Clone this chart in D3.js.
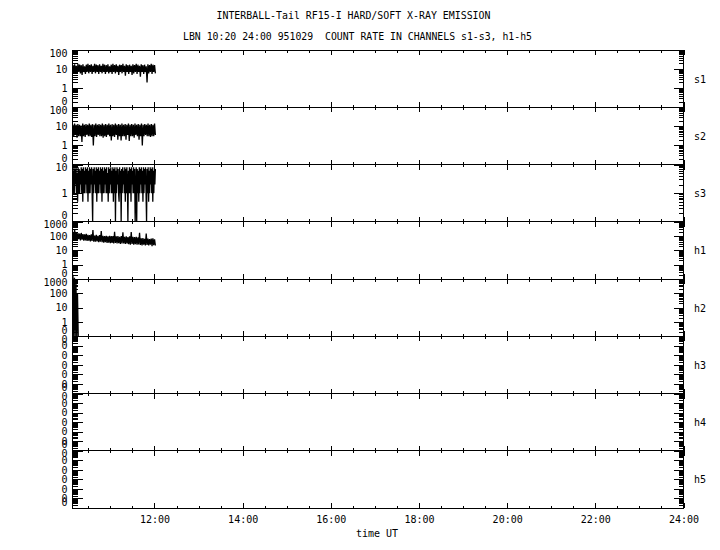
<!DOCTYPE html>
<html><head><meta charset="utf-8">
<script src="https://cdn.jsdelivr.net/npm/d3@7"></script>
<style>body{margin:0;background:#fff}</style>
</head><body><svg id="c" width="720" height="550"></svg>
<script>
// ---------- data ----------
const titleLine1 = "INTERBALL-Tail RF15-I HARD/SOFT X-RAY EMISSION";
const titleLine2 = "LBN 10:20 24:00 951029  COUNT RATE IN CHANNELS s1-s3, h1-h5";
const xAxisTitle = "time UT";
const channels = ["s1", "s2", "s3", "h1", "h2", "h3", "h4", "h5"];
const yDomains = [[0.1, 100], [0.1, 100], [0.1, 10], [0.1, 1000], [0.1, 1000], [1e-7, 0.1], [1e-7, 0.1], [1e-7, 0.1]];
const timeDomain = [10.14, 24];
const majorHours = [12, 14, 16, 18, 20, 22, 24];
const xTickLabels = ["12:00", "14:00", "16:00", "18:00", "20:00", "22:00", "24:00"];
const sampleStart = 10.15;                              // first sample (hours UT)
const sampleEnds = [12.02, 12.02, 12.02, 12.02, 10.27, 12.02, 12.02, 12.02]; // last sample per channel

const s1 = [16,6,18,7,15,5.5,19,7,17,6,16,5,18,7,14,5.5,17,7,19,6,16,7,18,5.5,15,7,19,6,17,7,16,5.5,18,7,15,6,19,7,17,5.5,16,7,18,6,14,7,17,5.5,19,7,16,6,18,7,15,5,17,7,16,6,19,7,15,4.5,18,7,16,5.5,17,7,15,5,18,6,16,7,19,5.5,17,7,15,4,18,7,16,5.5,17,7,14,2,18,6,16,7,19,5.5,17,7,16,6];
const s2 = [12,3,14,3.5,12,2.5,13,3,12,3,11,1.5,14,3,12,2.8,13,3.5,12,3,14,3,12,2.8,13,1.0,12,3,14,2.8,12,3.5,13,3,12,3,14,2.5,12,3,13,2.8,12,3.5,14,3,12,1.8,13,3,12,2.8,14,3.5,12,2,13,3,12,1.8,14,3,12,3,13,2,12,3.5,14,1.7,12,3,13,3,12,2.5,14,3.5,12,3,13,2,12,3,14,1.0,12,3,13,3.5,12,3,14,3,12,2.8,13,3,12,3,14,3.5];
const s3 = [6,1,8,1,7,2,8,1,5,0.5,8,1,7,1,6,2,8,1,7,0.5,
            8,1,6,1,8,2,7,1,8,0.5,6,1,8,1,7,2,8,1,0,7,
            1,8,2,6,1,8,0.5,7,1,8,1,6,2,8,1,7,0.5,8,1,6,
            1,8,2,7,1,8,1,5,0.5,8,1,7,2,8,1,6,1,8,0.5,7,
            1,8,0,6,1,8,2,7,1,0.5,8,1,6,0,7,1,8,2,6,1,
            8,0.5,7,1,8,2,0,6,1,8,1,7,0.5,8,2,6,1,8,1,7,
            0,1,8,0,7,1,6,0.5,8,1,7,2,8,1,6,0.5,8,1,7,2,
            8,1,0,7,1,8,0.5,6,1,8,2,7,1,8,0.5,6,1,8,2,7];
const h1 = [190,60,300,70,170,55,160,60,150,50,165,55,140,48,130,50,145,45,120,48,115,42,130,45,260,40,110,40,120,42,105,38,115,40,220,38,105,35,100,38,105,33,95,35,105,32,100,33,100,30,200,33,95,30,100,32,90,28,100,30,180,30,90,28,95,30,85,27,95,25,190,28,88,25,85,27,90,25,80,26,170,24,70,22,72,25,65,22,150,24,68,22,62,25,66,20,70,23,60,22];
const h2 = [2000,0.1,1200,0,600,0,100,0];
const h3 = [];
const h4 = [];
const h5 = [];
const series = [s1, s2, s3, h1, h2, h3, h4, h5];

// ---------- layout ----------
const svg = d3.select("#c");
const X0 = 72.5, X1 = 683.5, TOP = 50, BOTTOM = 508;
const FONT = "DejaVu Sans Mono";
const x = d3.scaleLinear().domain(timeDomain).range([X0, X1]);
const panelY = d3.scaleLinear().domain([0, channels.length]).range([TOP, BOTTOM]);
const minorHours = d3.range(10.5, 24.001, 0.5).filter(h => !majorHours.includes(h));

svg.append("text").attr("x", 216.5).attr("y", 19).attr("font-family", FONT).attr("font-size", 10)
  .attr("textLength", 274).attr("lengthAdjust", "spacingAndGlyphs").style("white-space", "pre").text(titleLine1);
svg.append("text").attr("x", 183).attr("y", 40).attr("font-family", FONT).attr("font-size", 10)
  .attr("textLength", 349).attr("lengthAdjust", "spacingAndGlyphs").style("white-space", "pre").text(titleLine2);

function styleAxis(g) {
  g.select(".domain").remove();
  g.selectAll("line").attr("stroke", "#000").attr("shape-rendering", "crispEdges");
  g.selectAll("text").attr("font-family", FONT).attr("font-size", 10).attr("fill", "#000");
  g.attr("font-family", FONT);
}

channels.forEach((ch, i) => {
  const top = panelY(i), bot = panelY(i + 1);
  const y = d3.scaleLog().domain(yDomains[i]).range([bot, top]);
  const g = svg.append("g");

  const all = y.ticks();
  const isMajor = d => Math.abs(Math.log10(d) - Math.round(Math.log10(d))) < 1e-6;
  const majors = all.filter(isMajor);
  const minors = all.filter(d => !isMajor(d));
  const fmt = d => d < 1 ? "0" : d3.format("d")(d);

  // left axis
  const la = g.append("g").attr("transform", `translate(${X0},0)`)
    .call(d3.axisLeft(y).tickValues(majors).tickSizeInner(-10).tickSizeOuter(0).tickPadding(5).tickFormat(fmt));
  styleAxis(la);
  la.selectAll("text").attr("dy", d => {
    if (Math.abs(y(d) - top) < 0.5) return "0.62em";
    if (Math.abs(y(d) - bot) < 0.5) return "-0.3em";
    return "0.32em";
  });
  styleAxis(g.append("g").attr("transform", `translate(${X0},0)`)
    .call(d3.axisLeft(y).tickValues(minors).tickSizeInner(-5).tickSizeOuter(0).tickFormat("")));
  // right axis
  styleAxis(g.append("g").attr("transform", `translate(${X1},0)`)
    .call(d3.axisRight(y).tickValues(majors).tickSizeInner(-10).tickSizeOuter(0).tickFormat("")));
  styleAxis(g.append("g").attr("transform", `translate(${X1},0)`)
    .call(d3.axisRight(y).tickValues(minors).tickSizeInner(-5).tickSizeOuter(0).tickFormat("")));

  // top/bottom time ticks
  styleAxis(g.append("g").attr("transform", `translate(0,${top})`)
    .call(d3.axisBottom(x).tickValues(majorHours).tickSizeInner(5).tickSizeOuter(0).tickFormat("")));
  styleAxis(g.append("g").attr("transform", `translate(0,${top})`)
    .call(d3.axisBottom(x).tickValues(minorHours).tickSizeInner(2.5).tickSizeOuter(0).tickFormat("")));
  styleAxis(g.append("g").attr("transform", `translate(0,${bot})`)
    .call(d3.axisTop(x).tickValues(majorHours).tickSizeInner(5).tickSizeOuter(0).tickFormat("")));
  styleAxis(g.append("g").attr("transform", `translate(0,${bot})`)
    .call(d3.axisTop(x).tickValues(minorHours).tickSizeInner(2.5).tickSizeOuter(0).tickFormat("")));

  // border
  g.append("rect").attr("x", X0).attr("y", top).attr("width", X1 - X0).attr("height", bot - top)
    .attr("fill", "none").attr("stroke", "#000").attr("shape-rendering", "crispEdges");

  // data
  const vals = series[i];
  if (vals.length) {
    const step = (sampleEnds[i] - sampleStart) / (vals.length - 1);
    const line = d3.line()
      .x((d, k) => x(sampleStart + k * step))
      .y(d => y(Math.max(d, yDomains[i][0])));
    g.append("path").datum(vals).attr("d", line).attr("fill", "none")
      .attr("stroke", "#000").attr("stroke-width", 1.3);
  }

  // channel label
  svg.append("text").attr("x", 694).attr("y", (top + bot) / 2 + 4)
    .attr("font-family", FONT).attr("font-size", 10).text(ch);
});

// bottom labels
const ba = svg.append("g").attr("transform", `translate(0,${BOTTOM})`)
  .call(d3.axisBottom(x).tickValues(majorHours).tickSizeInner(0).tickSizeOuter(0).tickPadding(8)
    .tickFormat((d, k) => xTickLabels[k]));
styleAxis(ba);
ba.selectAll("line").remove();

svg.append("text").attr("x", 377).attr("y", 537).attr("text-anchor", "middle")
  .attr("font-family", FONT).attr("font-size", 10).text(xAxisTitle);
</script>
</body></html>
